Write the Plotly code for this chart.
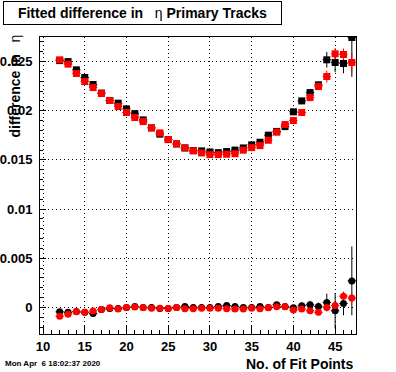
import plotly.graph_objects as go

# ---------------- data ----------------
fit_points = list(range(12, 48))

upper_black = [0.0251, 0.0250, 0.02416, 0.02338, 0.02267, 0.0218, 0.02105, 0.02077,
               0.02019, 0.01971, 0.01907, 0.01826, 0.01762, 0.01707, 0.01663, 0.01622,
               0.01595, 0.01592, 0.01581, 0.01574, 0.01585, 0.01600, 0.01622, 0.01653,
               0.0168, 0.01752, 0.0179, 0.01839, 0.01989, 0.0210, 0.02185, 0.02264,
               0.02518, 0.02491, 0.02481, 0.02745]
upper_black_err = [0.00005] * 28 + [0.0003, 0.0003, 0.0003, 0.0003, 0.0008, 0.0010, 0.0010, 0.004]

upper_red = [0.02518, 0.02474, 0.02379, 0.02297, 0.02236, 0.02175, 0.02104, 0.02043,
             0.01982, 0.01931, 0.0189, 0.01826, 0.01775, 0.01707, 0.01663, 0.01622,
             0.01592, 0.01571, 0.01554, 0.01554, 0.01558, 0.01563, 0.01599, 0.01625,
             0.01646, 0.0170, 0.01782, 0.0186, 0.0190, 0.01982, 0.02134, 0.02246,
             0.02348, 0.02579, 0.02572, 0.02491]
upper_red_err = [0.00005] * 28 + [0.0002, 0.0002, 0.0003, 0.0003, 0.0006, 0.0006, 0.0006, 0.001]

lower_black = [-0.00045, -0.0005, -0.0004, -0.0005, -0.00061, -0.0002, -0.0001, -0.0001,
               0.0, 0.0001, 0.0, 0.0, -0.0001, -0.0001, 0.0, 0.0001,
               0.0, 0.0, 0.0, 0.0001, 0.0002, 0.0001, 0.0, 0.0,
               0.0001, 0.0, 0.00027, 0.0001, -0.00003, 0.00017, 0.00027, 0.0001,
               0.0005, -0.00034, 0.0004, 0.0027]
lower_black_err = [0.0001] * 29 + [0.0003, 0.0004, 0.0004, 0.0009, 0.0018, 0.0012, 0.0035]

lower_red = [-0.00089, -0.00068, -0.00045, -0.00048, -0.00035, -0.0002, -0.00003, -0.00017,
             0.0, 0.00005, 0.0, -0.00007, -0.00007, -0.0001, 0.0, -0.00013,
             -0.00013, -0.00007, -0.00007, -0.00007, -0.00013, -0.00017, -0.00017, -0.00007,
             -0.00013, -0.00003, 0.00007, 0.00007, -0.00027, -0.00017, -0.00034, -0.0005,
             0.0, 0.0002, 0.00115, 0.00095]
lower_red_err = [0.0001] * 30 + [0.0002, 0.0002, 0.0003, 0.0003, 0.0004, 0.0005]

half_bin = [0.5] * len(fit_points)

x_tick_vals = [10, 15, 20, 25, 30, 35, 40, 45]
x_tick_text = ["10", "15", "20", "25", "30", "35", "40", "45"]
y_tick_vals = [0, 0.005, 0.01, 0.015, 0.02, 0.025]
y_tick_text = ["0", "0.005", "0.01", "0.015", "0.02", "0.025"]

ETA = '<span style="font-weight:normal">η</span>'
title_text = "Fitted difference in\u00a0\u00a0\u00a0" + ETA + " Primary Tracks"
x_title = "No. of Fit Points"
y_title = "difference in\u00a0\u00a0\u00a0" + ETA
date_text = "Mon Apr\u00a0\u00a06 18:02:37 2020"

# ---------------- figure ----------------
FONT = "Liberation Sans, Arial, sans-serif"
fig = go.Figure()


def add_series(y, err, color, symbol):
    fig.add_trace(go.Scatter(
        x=fit_points, y=y, mode="markers",
        marker=dict(symbol=symbol, size=7, color=color, line=dict(width=0)),
        error_x=dict(type="data", array=half_bin, color=color, thickness=1, width=0),
        error_y=dict(type="data", array=err, color=color, thickness=1, width=0),
        showlegend=False, cliponaxis=True,
    ))


add_series(upper_black, upper_black_err, "black", "square")
add_series(lower_black, lower_black_err, "black", "circle")
add_series(upper_red, upper_red_err, "red", "square")
add_series(lower_red, lower_red_err, "red", "circle")

W, H = 396, 372
L, R, T, B = 40, 40, 37, 38
PW, PH = W - L - R, H - T - B


def px_x(px):
    return (px - L) / PW


def px_y(py):
    return (H - B - py) / PH


fig.update_layout(
    width=W, height=H,
    margin=dict(l=L, r=R, t=T, b=B, pad=0, autoexpand=False),
    paper_bgcolor="white", plot_bgcolor="white",
    font=dict(family=FONT, color="black"),
    xaxis=dict(
        range=[9.64, 47.5], tickvals=x_tick_vals, ticktext=x_tick_text,
        ticks="inside", ticklen=9, tickwidth=1, tickcolor="black",
        tickfont=dict(family=FONT, size=13, weight="bold", color="black"),
        automargin=False,
        showgrid=True, gridcolor="black", griddash="1px,3px", gridwidth=1,
        showline=True, linecolor="black", linewidth=1, mirror=True,
        zeroline=False,
        minor=dict(dtick=1, tick0=10, ticks="inside", ticklen=4, tickcolor="black", showgrid=False),
    ),
    yaxis=dict(
        range=[-0.0027, 0.0275], tickvals=y_tick_vals, ticktext=y_tick_text,
        ticks="inside", ticklen=6, tickwidth=1, tickcolor="black",
        tickfont=dict(family=FONT, size=13, weight="bold", color="black"),
        ticklabelstandoff=4, automargin=False,
        showgrid=True, gridcolor="black", griddash="1px,3px", gridwidth=1,
        showline=True, linecolor="black", linewidth=1, mirror=True,
        zeroline=False,
        minor=dict(dtick=0.001, tick0=0, ticks="inside", ticklen=3, tickcolor="black", showgrid=False),
    ),
    annotations=[
        dict(text=title_text, xref="paper", yref="paper",
             x=px_x(3), y=px_y(1), xanchor="left", yanchor="top",
             showarrow=False, font=dict(family=FONT, size=14, weight="bold", color="black"),
             bordercolor="black", borderwidth=1, borderpad=1, bgcolor="white",
             width=275, height=20, align="center", valign="middle"),
        dict(text=x_title, xref="paper", yref="paper",
             x=px_x(356), y=px_y(364), xanchor="right", yanchor="middle",
             showarrow=False, font=dict(family=FONT, size=14, weight="bold", color="black")),
        dict(text=y_title, xref="paper", yref="paper", textangle=-90,
             x=px_x(14), y=px_y(33), xanchor="center", yanchor="top",
             showarrow=False, font=dict(family=FONT, size=14, weight="bold", color="black")),
        dict(text=date_text, xref="paper", yref="paper",
             x=px_x(3), y=px_y(363), xanchor="left", yanchor="middle",
             showarrow=False, font=dict(family=FONT, size=8, weight="bold", color="black")),
    ],
)

fig.write_html("out.html", config={"displayModeBar": False},
               post_script="document.body.style.margin='0';")
